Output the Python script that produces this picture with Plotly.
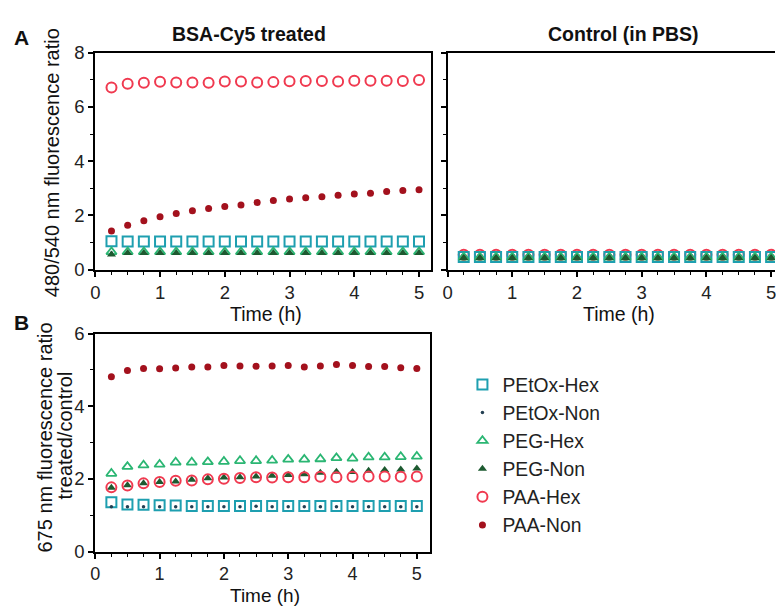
import plotly.graph_objects as go

W, H = 776, 611

def px(x):
    return x / W

def py(y):
    return 1 - y / H

# ---------------- data ----------------
time_h = [0.25, 0.5, 0.75, 1.0, 1.25, 1.5, 1.75, 2.0, 2.25, 2.5,
          2.75, 3.0, 3.25, 3.5, 3.75, 4.0, 4.25, 4.5, 4.75, 5.0]

series_names = ["PEtOx-Hex", "PEtOx-Non", "PEG-Hex", "PEG-Non", "PAA-Hex", "PAA-Non"]

# Panel A, BSA-Cy5 treated (480/540 nm ratio)
a_treated_petox_hex = [1.05, 1.04, 1.04, 1.04, 1.04, 1.04, 1.04, 1.04, 1.04, 1.04,
                       1.04, 1.04, 1.04, 1.04, 1.04, 1.04, 1.04, 1.04, 1.04, 1.04]
a_treated_petox_non = [0.62, 0.62, 0.62, 0.62, 0.62, 0.62, 0.62, 0.62, 0.62, 0.62,
                       0.62, 0.62, 0.62, 0.62, 0.62, 0.62, 0.62, 0.62, 0.62, 0.62]
a_treated_peg_hex = [0.66, 0.66, 0.66, 0.66, 0.66, 0.66, 0.66, 0.66, 0.66, 0.66,
                     0.66, 0.66, 0.66, 0.66, 0.66, 0.66, 0.66, 0.66, 0.66, 0.66]
a_treated_peg_non = [0.56, 0.62, 0.62, 0.62, 0.62, 0.62, 0.62, 0.62, 0.62, 0.62,
                     0.62, 0.62, 0.62, 0.62, 0.62, 0.62, 0.62, 0.62, 0.62, 0.62]
a_treated_paa_hex = [6.71, 6.85, 6.89, 6.92, 6.90, 6.90, 6.89, 6.93, 6.93, 6.90,
                     6.91, 6.94, 6.95, 6.95, 6.93, 6.96, 6.96, 6.96, 6.95, 6.99]
a_treated_paa_non = [1.43, 1.64, 1.81, 1.95, 2.07, 2.17, 2.26, 2.33, 2.39, 2.48,
                     2.55, 2.61, 2.65, 2.69, 2.74, 2.79, 2.82, 2.88, 2.92, 2.95]

# Panel A, Control (in PBS)
a_control_petox_hex = [0.47] * 20
a_control_petox_non = [0.44] * 20
a_control_peg_hex = [0.46] * 20
a_control_peg_non = [0.43] * 20
a_control_paa_hex = [0.55] * 20
a_control_paa_non = [0.46] * 20

# Panel B, 675 nm ratio treated/control
b_petox_hex = [1.36, 1.30, 1.29, 1.28, 1.27, 1.26, 1.26, 1.26, 1.26, 1.26,
               1.26, 1.26, 1.26, 1.26, 1.26, 1.26, 1.26, 1.26, 1.26, 1.26]
b_petox_non = [1.24, 1.24, 1.24, 1.24, 1.24, 1.24, 1.24, 1.24, 1.24, 1.25,
               1.24, 1.24, 1.24, 1.24, 1.24, 1.24, 1.24, 1.24, 1.24, 1.24]
b_peg_hex = [2.15, 2.34, 2.38, 2.40, 2.46, 2.46, 2.47, 2.48, 2.50, 2.50,
             2.51, 2.54, 2.54, 2.55, 2.58, 2.57, 2.60, 2.60, 2.61, 2.62]
b_peg_non = [1.76, 1.83, 1.88, 1.92, 1.93, 1.98, 2.02, 2.04, 2.05, 2.07,
             2.09, 2.11, 2.13, 2.17, 2.20, 2.19, 2.23, 2.25, 2.26, 2.29]
b_paa_hex = [1.77, 1.82, 1.88, 1.92, 1.95, 1.96, 1.99, 2.01, 2.03, 2.05,
             2.04, 2.05, 2.05, 2.06, 2.05, 2.06, 2.07, 2.07, 2.06, 2.07]
b_paa_non = [4.81, 4.98, 5.04, 5.03, 5.05, 5.08, 5.08, 5.12, 5.11, 5.10,
             5.11, 5.12, 5.08, 5.11, 5.15, 5.12, 5.09, 5.09, 5.06, 5.04]

x_ticks = [0, 1, 2, 3, 4, 5]
a_y_ticks = [0, 2, 4, 6, 8]
b_y_ticks = [0, 2, 4, 6]

# ---------------- styles ----------------
styles = {
    "PEtOx-Hex": dict(symbol="square-open", size=10, color="#1e9fb0", line=dict(width=2, color="#1e9fb0")),
    "PEtOx-Non": dict(symbol="circle", size=3.5, color="#233f52", line=dict(width=0)),
    "PEG-Hex": dict(symbol="triangle-up-open", size=9, color="#2bb673", line=dict(width=1.8, color="#2bb673")),
    "PEG-Non": dict(symbol="triangle-up", size=8, color="#1d5a30", line=dict(width=0)),
    "PAA-Hex": dict(symbol="circle-open", size=10, color="#f03a50", line=dict(width=2, color="#f03a50")),
    "PAA-Non": dict(symbol="circle", size=7, color="#a3111d", line=dict(width=0)),
}

treated = dict(zip(series_names, [a_treated_petox_hex, a_treated_petox_non, a_treated_peg_hex,
                                  a_treated_peg_non, a_treated_paa_hex, a_treated_paa_non]))
control = dict(zip(series_names, [a_control_petox_hex, a_control_petox_non, a_control_peg_hex,
                                  a_control_peg_non, a_control_paa_hex, a_control_paa_non]))
ratio_b = dict(zip(series_names, [b_petox_hex, b_petox_non, b_peg_hex, b_peg_non, b_paa_hex, b_paa_non]))

control_order = ["PAA-Non", "PAA-Hex", "PEtOx-Hex", "PEG-Hex", "PEtOx-Non", "PEG-Non"]

panels = [
    ("x", "y", treated, series_names, False),
    ("x2", "y2", control, control_order, False),
    ("x3", "y3", ratio_b, series_names, True),
]

fig = go.Figure()
for xa, ya, data, order, show in panels:
    for name in order:
        fig.add_trace(go.Scatter(
            x=time_h, y=data[name], mode="markers", name=name,
            marker=styles[name], xaxis=xa, yaxis=ya,
            showlegend=show, hoverinfo="skip"))

FONT = "Arial, Liberation Sans, sans-serif"

def tickfont(size=18.5):
    return dict(family=FONT, size=size, color="#222222")

def xaxis(domain, rng, anchor, mirror=True, fsize=18.5):
    return dict(domain=domain, range=rng, anchor=anchor, tickvals=x_ticks,
                ticks="outside", ticklen=5, tickwidth=1.5, tickcolor="black",
                showline=True, linewidth=2, linecolor="black", mirror=mirror,
                showgrid=False, zeroline=False, tickfont=tickfont(fsize),
                ticklabeloverflow="allow",
                minor=dict(dtick=0.25, tick0=0, ticks="outside", ticklen=3,
                           tickwidth=1.2, tickcolor="black", showgrid=False))

def yaxis(domain, rng, anchor, tickvals, labels=True, mirror=True):
    return dict(domain=domain, range=rng, anchor=anchor, tickvals=tickvals,
                showticklabels=labels,
                ticks="outside", ticklen=5, tickwidth=1.5, tickcolor="black",
                showline=True, linewidth=2, linecolor="black", mirror=mirror,
                showgrid=False, zeroline=False, tickfont=tickfont(),
                minor=dict(dtick=1, tick0=0, ticks="outside", ticklen=3,
                           tickwidth=1.2, tickcolor="black", showgrid=False))

a_ydom = [py(268), py(43)]
b_ydom = [py(560), py(334)]

fig.update_layout(
    width=W, height=H,
    margin=dict(l=0, r=0, t=0, b=0),
    paper_bgcolor="white", plot_bgcolor="white",
    font=dict(family=FONT, color="#222222"),
    xaxis=xaxis([px(91), px(429)], [0, 5.18], "y"),
    yaxis=yaxis(a_ydom, [0, 8], "x", a_y_ticks),
    xaxis2=xaxis([px(446), 1.0], [0, 5.06], "y2"),
    yaxis2=yaxis(a_ydom, [0, 8], "x2", a_y_ticks, labels=False, mirror=False),
    xaxis3=xaxis([px(91), px(428)], [0, 5.2], "y3", fsize=18),
    yaxis3=yaxis(b_ydom, [0, 6], "x3", b_y_ticks),
    legend=dict(x=px(461), y=py(367), xanchor="left", yanchor="top",
                font=dict(family=FONT, size=19.3, color="#222222"),
                bgcolor="rgba(0,0,0,0)", itemsizing="trace"),
)

def ann(text, x, y, size=19.5, bold=False, angle=0):
    if bold:
        text = "<b>" + text + "</b>"
    fig.add_annotation(text=text, x=px(x), y=py(y), xref="paper", yref="paper",
                       showarrow=False, xanchor="center", yanchor="middle",
                       textangle=angle, borderpad=0,
                       font=dict(family=FONT, size=size, color="#111111"))

ann("A", 17, 27, size=21, bold=True)
ann("B", 17, 323, size=21, bold=True)
ann("BSA-Cy5 treated", 246, 24, size=19.5, bold=True)
ann("Control (in PBS)", 623, 24, size=19.5, bold=True)
ann("480/540 nm fluorescence ratio", 47, 157, size=20, angle=-90)
ann("675 nm fluorescence ratio", 40, 442, size=20, angle=-90)
ann("treated/control", 60, 440, size=20, angle=-90)
ann("Time (h)", 263, 314)
ann("Time (h)", 619, 314)
ann("Time (h)", 262, 605, size=19)

fig.write_html("out.html", config={"displayModeBar": False},
               post_script="document.body.style.margin='0';document.body.style.overflow='hidden';")
